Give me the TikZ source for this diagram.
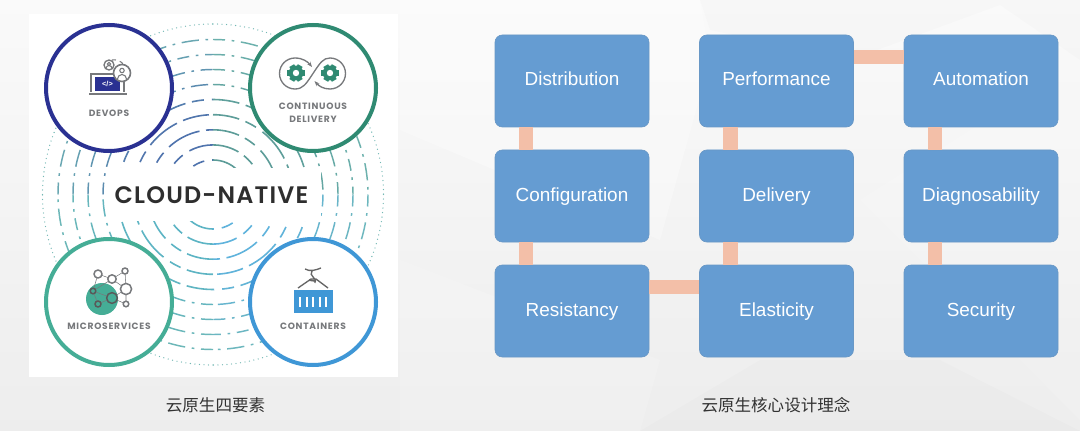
\documentclass[tikz,border=0pt]{standalone}
\usepackage{fontspec}
\setmainfont{Liberation Sans}
\newfontfamily\cjkfont{Noto Sans CJK SC}
\newfontfamily\logofont[LetterSpace=5]{Poppins SemiBold}
\newfontfamily\tagfont[LetterSpace=8]{Poppins}
\usetikzlibrary{arrows.meta}
\definecolor{boxblue}{HTML}{659CD2}
\definecolor{linkpeach}{HTML}{F3BFA8}
\definecolor{devblue}{HTML}{2A3192}
\definecolor{cdgreen}{HTML}{2F8A72}
\definecolor{msgreen}{HTML}{45AD96}
\definecolor{ctblue}{HTML}{3F97D6}
\definecolor{ringtl}{HTML}{4F73AD}
\definecolor{ringtr}{HTML}{5C9C98}
\definecolor{ringbl}{HTML}{5CB4C4}
\definecolor{ringbr}{HTML}{5FB3DC}
\definecolor{ringedge}{HTML}{72B8B4}
\definecolor{icongray}{HTML}{77797C}
\begin{document}
\begin{tikzpicture}[x=.75pt,y=-.75pt,line width=.5pt,
    box/.style={fill=boxblue,draw=boxblue!85!gray,rounded corners=5.5pt,minimum width=115.5pt,minimum height=69pt,text=white,font=\fontsize{14.2}{16}\selectfont,text height=11pt,text depth=3.5pt,inner sep=0pt},
    link/.style={linkpeach,line width=10.8pt},
    hub/.style={circle,draw,fill=white,line width=3pt,minimum size=94.5pt,inner sep=0pt},
    tag/.style={text=icongray,font=\tagfont\bfseries\fontsize{6.85}{8}\selectfont,inner sep=0pt},
    captext/.style={text=black!80,font=\cjkfont\fontsize{12.4}{14}\selectfont,inner sep=0pt},
    dotring/.style={line width=1pt,line cap=round,dash pattern=on 0pt off 3.4pt},
    dashdot/.style={line width=1.1pt,dash pattern=on 9pt off 5pt on 2pt off 5pt on 13pt off 5pt on 2pt off 5pt},
    longdash/.style={line width=1.2pt,dash pattern=on 20pt off 5pt on 9pt off 6pt on 26pt off 5pt},
    ic/.style={icongray,line width=.8pt}]
  \useasboundingbox (0,0) rectangle (1080,431);
  % page background
  \shade[top color=black!2,bottom color=black!7] (0,0) rectangle (1080,431);
  \fill[white,opacity=.3] (400,0)--(700,0)--(710,60)--(660,240)--(400,130)--cycle;
  \fill[black,opacity=.012] (700,0)--(1080,0)--(1080,60)--(1000,5)--(850,60)--(710,30)--cycle;
  \fill[white,opacity=.15] (400,260)--(660,360)--(640,431)--(400,431)--cycle;
  \fill[black,opacity=.01] (640,431)--(760,360)--(940,360)--(1080,431)--cycle;
  \fill[white,opacity=.12] (860,200)--(1080,60)--(1080,420)--cycle;
  % left panel with the rings
  \fill[white] (29,14) rectangle (398,377);
  \coordinate (centre) at (213,194.5);
  \foreach \ang/\col in {180/ringtl,270/ringtr,90/ringbl,0/ringbr}{
    \foreach \r/\m/\kind in {34.5/100/longdash,49.6/100/longdash,64.7/100/longdash,79.8/95/longdash,95/85/longdash,110/65/dashdot,125/50/dashdot,140/35/dashdot,155/25/dashdot,170.5/0/dotring}
      \draw[\kind,color=\col!\m!ringedge] (centre) ++(\ang:\r) arc[start angle=\ang,delta angle=90,radius=\r];
  }
  \fill[white] (106,168) rectangle (321,221);
  \node[font=\logofont\fontsize{17.9}{20}\selectfont,text=black!82,inner sep=0pt] (logo) at (211.5,195) {CLOUD-NATIVE};
  % the four circles
  \node[hub,draw=devblue] (devops) at (109,88) {};
  \node[hub,draw=cdgreen] (delivery) at (313,88) {};
  \node[hub,draw=msgreen] (micro) at (109,302) {};
  \node[hub,draw=ctblue] (contain) at (313,302) {};
  \node[tag] (devopstag) at (109,113) {DEVOPS};
  \node[tag,align=center,font=\tagfont\bfseries\fontsize{6.85}{9.6}\selectfont] (deliverytag) at (313,112.5) {CONTINUOUS\\DELIVERY};
  \node[tag] (microtag) at (109,326) {MICROSERVICES};
  \node[tag] (containtag) at (313,326) {CONTAINERS};
  % laptop
  \draw[ic,dashed] (112,60) arc[start angle=-100,delta angle=100,radius=12];
  \draw[ic,line width=1.3pt] (91,92)--(91,74)--(124,74)--(124,92);
  \draw[ic,line width=2pt] (89,94)--(127,94);
  \fill[devblue] (95,77) rectangle (120,91);
  \node[text=white,inner sep=0pt,font=\bfseries\fontsize{5.5}{5.5}\selectfont] (code) at (107.5,84) {</>};
  \draw[ic,fill=white,line width=1pt] (109,65) circle[radius=5];
  \draw[ic,fill=white,line width=1.2pt] (122,73) circle[radius=8.5];
  \draw[ic] (122,70.5) circle[radius=2.2] (117.5,79) arc[start angle=180,end angle=360,radius=4.5];
  \draw[ic] (109,64) circle[radius=1.6] (106,68.5) arc[start angle=180,end angle=360,radius=3];
  % loop with the two gears
  \foreach \x in {296,330}{
    \foreach \a in {0,60,...,300}
      \fill[cdgreen] (\x,73) ++(\a-18:9) -- ++(\a+90:5.5) -- ++(\a:-2) -- ++(\a+90:-5.5) -- cycle;
    \fill[cdgreen] (\x,73) circle[radius=7.4];
    \fill[white] (\x,73) circle[radius=3.2];
  }
  \draw[ic,line width=1pt,-{Stealth[length=4pt]}] (313,73.5) .. controls (306,84) and (303,89) .. (295,89) arc[start angle=90,end angle=270,radius=15.5] .. controls (303,58) and (308,62) .. (312,67);
  \draw[ic,line width=1pt,-{Stealth[length=4pt]}] (313,73.5) .. controls (320,63) and (323,58) .. (330,58) arc[start angle=-90,end angle=90,radius=15.5] .. controls (323,89) and (319,86) .. (314.5,81);
  % service graph
  \fill[msgreen] (102,299) circle[radius=16];
  \draw[ic,line width=.4pt] (98,274)--(112,279)--(125,271)--(126,289)--(126,304)--(112,298)--(98,304)--(93,291)--(112,298)--(126,289)--(112,279)--(93,291) (98,274)--(93,291);
  \foreach \x/\y/\s in {98/274/4,112/279/4.2,125/271/3,126/289/5.6,126/304/2.8}
    \draw[icongray,fill=white,line width=1.1pt] (\x,\y) circle[radius=\s];
  \foreach \x/\y/\s in {112/298/5.4,93/291/2.8,98/304/3}
    \draw[black!65,fill=msgreen,line width=1.1pt] (\x,\y) circle[radius=\s];
  % shipping container
  \fill[ctblue] (294,290) rectangle (333,313);
  \foreach \x in {300,306.6,313.2,319.8,326.4}
    \draw[white,line width=1.4pt] (\x,297)--(\x,307);
  \draw[black!60,line width=1pt] (298,288)--(311,279)--(316,279)--(328,288) (305,269) .. controls (310,272) and (316,270) .. (321,268) (312,271) .. controls (308,276) and (318,278) .. (315,283);
  \draw[black!60,line width=1.4pt] (309,280)--(316,281);
  % design principle boxes
  \node[box] (dist) at (572,81) {Distribution};
  \node[box] (conf) at (572,196) {Configuration};
  \node[box] (resi) at (572,311) {Resistancy};
  \node[box] (perf) at (776.5,81) {Performance};
  \node[box] (deli) at (776.5,196) {Delivery};
  \node[box] (elas) at (776.5,311) {Elasticity};
  \node[box] (auto) at (981,81) {Automation};
  \node[box] (diag) at (981,196) {Diagnosability};
  \node[box] (secu) at (981,311) {Security};
  \foreach \a/\b in {dist/conf,conf/resi,perf/deli,deli/elas,auto/diag,diag/secu}
    \draw[link] ([xshift=-34.5pt]\a.south)--([xshift=-34.5pt]\b.north);
  \draw[link] ([yshift=18pt]resi.east)--([yshift=18pt]elas.west);
  \draw[link] ([yshift=18pt]perf.east)--([yshift=18pt]auto.west);
  % captions
  \node[captext] (capleft) at (215.5,405) {云原生四要素};
  \node[captext] (capright) at (776,405) {云原生核心设计理念};
\end{tikzpicture}
\end{document}
